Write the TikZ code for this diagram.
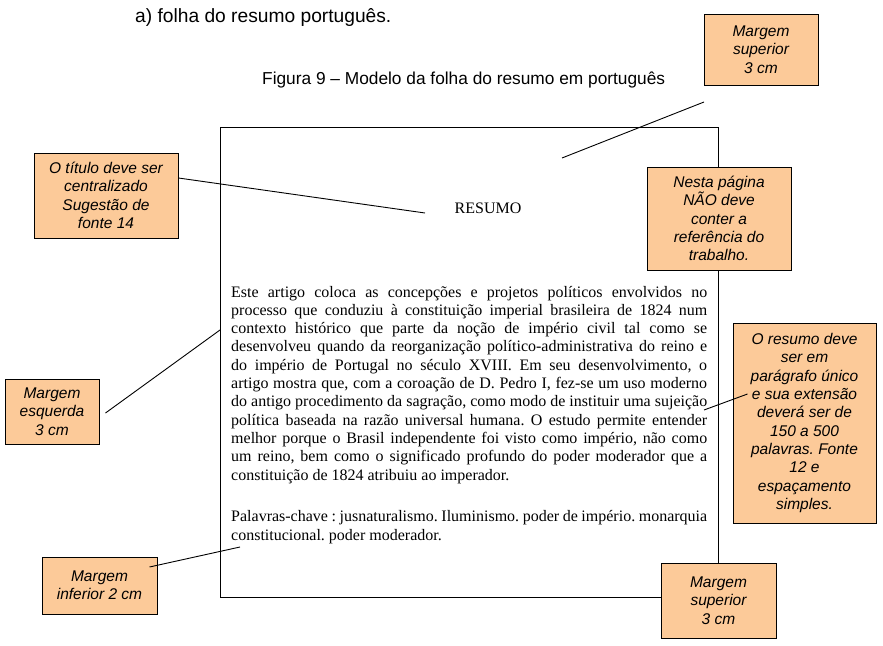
\documentclass[tikz,border=0pt]{standalone}
\usepackage{fontspec}
\setmainfont{Liberation Serif}
\setsansfont{Liberation Sans}
\usetikzlibrary{calc}
\definecolor{laranja}{RGB}{252,202,153}
\frenchspacing
\hyphenpenalty=10000
\exhyphenpenalty=10000

\begin{document}
\begin{tikzpicture}[x=1pt, y=-1pt]
    % Set up styles for the notes
    \tikzstyle{nota} = [draw, line width=1pt, fill=laranja, align=center, inner sep=0pt,
        font=\fontsize{15.5}{18.3}\selectfont\sffamily\itshape]
    \tikzstyle{ligacao} = [line width=0.9pt]
    \tikzstyle{corpo} = [anchor=base west, inner sep=0pt, text width=476pt, align=justify,
        font=\fontsize{16}{18.3}\selectfont]

    \useasboundingbox (0,0) rectangle (883,645);

    % Heading and caption
    \node[anchor=base west, inner sep=0pt, font=\fontsize{19.2}{22}\selectfont\sffamily]
        (item) at (135,22) {a) folha do resumo português.};
    \node[anchor=base west, inner sep=0pt, font=\fontsize{17.3}{20}\selectfont\sffamily]
        (legenda) at (262,84) {Figura 9 -- Modelo da folha do resumo em português};

    % The page
    \draw[line width=1pt] (220,127) rectangle (718,597);
    \node[anchor=base, inner sep=0pt, font=\fontsize{16}{18.3}\selectfont]
        (titulo) at (488,213) {RESUMO};

    % Abstract and keywords
    \node[corpo] (resumo) at (231,297) {Este artigo coloca as concepções e projetos políticos envolvidos no\linebreak
        processo que conduziu à constituição imperial brasileira de 1824 num\linebreak
        contexto histórico que parte da noção de império civil tal como se\linebreak
        desenvolveu quando da reorganização político-administrativa do reino e\linebreak
        do império de Portugal no século XVIII. Em seu desenvolvimento, o\linebreak
        artigo mostra que, com a coroação de D. Pedro I, fez-se um uso moderno\linebreak
        do antigo procedimento da sagração, como modo de instituir uma sujeição\linebreak
        política baseada na razão universal humana. O estudo permite entender\linebreak
        melhor porque o Brasil independente foi visto como império, não como\linebreak
        um reino, bem como o significado profundo do poder moderador que a\linebreak
        constituição de 1824 atribuiu ao imperador.};
    \node[corpo, font=\fontsize{16}{19.3}\selectfont] (palavras) at (231,521)
        {Palavras-chave : jusnaturalismo. Iluminismo. poder de império. monarquia\linebreak
        constitucional. poder moderador.};

    % Notes
    \node[nota, minimum width=114pt, minimum height=71pt] (supcima) at (761,49.5)
        {Margem\\superior\\3 cm};
    \node[nota, minimum width=144pt, minimum height=85pt] (centrado) at (106,195.5)
        {O título deve ser\\centralizado\\Sugestão de\\fonte 14};
    \node[nota, minimum width=144pt, minimum height=103pt] (referencia) at (719,218.5)
        {Nesta página\\NÃO deve\\conter a\\referência do\\trabalho.};
    \node[nota, minimum width=94pt, minimum height=65pt] (esquerda) at (52,411.5)
        {Margem\\esquerda\\3 cm};
    \node[nota, minimum width=143pt, minimum height=200pt] (extensao) at (804.5,423)
        {O resumo deve\\ser em\\parágrafo único\\e sua extensão\\deverá ser de\\150 a 500\\palavras. Fonte\\12 e\\espaçamento\\simples.};
    \node[nota, minimum width=115pt, minimum height=57pt] (inferior) at (99.5,585.5)
        {Margem\\inferior 2 cm};
    \node[nota, minimum width=115pt, minimum height=75pt] (supbaixo) at (718.5,600.5)
        {Margem\\superior\\3 cm};

    % Pointers
    \coordinate (topo1) at (704,102);
    \coordinate (topo2) at (562,158);
    \coordinate (alvotitulo) at (425,213);
    \coordinate (alvoesquerda) at (220,330);
    \coordinate (alvoresumo) at (704,410);
    \coordinate (alvoinferior) at (240,547);

    \draw[ligacao] (topo1) -- (topo2);
    \draw[ligacao] ([yshift=17.5pt]centrado.east) -- (alvotitulo);
    \draw[ligacao] ([xshift=6pt,yshift=-1.5pt]esquerda.east) -- (alvoesquerda);
    \draw[ligacao] (alvoresumo) -- ([xshift=15pt,yshift=29pt]extensao.west);
    \draw[ligacao] ([xshift=-8pt,yshift=18.5pt]inferior.east) -- (alvoinferior);

\end{tikzpicture}
\end{document}
